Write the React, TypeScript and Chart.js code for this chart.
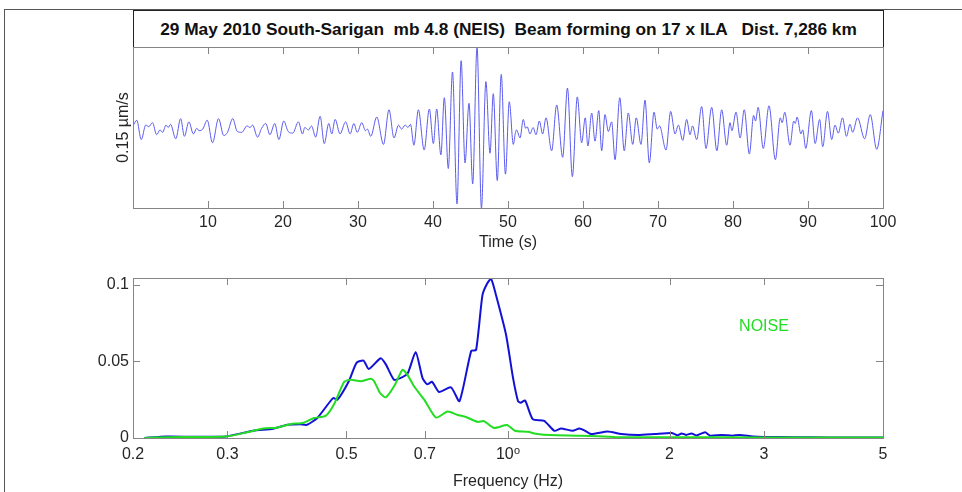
import React, { useEffect, useRef } from 'react';
import { Chart, registerables } from 'chart.js';
Chart.register(...registerables);

const FONT = '"Liberation Sans", Arial, Helvetica, "DejaVu Sans", sans-serif';

const TITLE = '29 May 2010 South-Sarigan  mb 4.8 (NEIS)  Beam forming on 17 x ILA   Dist. 7,286 km';
const TIME_LABEL = 'Time (s)';
const AMP_LABEL = '0.15 µm/s';
const FREQ_LABEL = 'Frequency (Hz)';
const NOISE_LABEL = 'NOISE';

// Time-domain beam trace (s, normalised amplitude)
const traceTime = [
  0.0, 0.5, 1.1, 1.7, 2.1, 2.6, 3.15, 3.6, 3.95, 4.4, 4.7, 5.0, 5.7, 6.35, 6.85, 7.45, 8.05, 8.5, 8.8, 9.3,
  9.9, 10.6, 11.4, 12.1, 12.6, 13.3, 13.9, 14.5, 15.2, 15.6, 15.95, 16.6, 17.15, 17.7, 18.25, 18.9, 19.45, 20.1,
  20.7, 21.3, 22.05, 22.6, 22.9, 23.4, 23.8, 24.35, 24.95, 25.5, 26.1, 26.5, 26.95, 27.6, 28.35, 28.95, 29.45, 29.9,
  30.5, 31.0, 31.25, 31.7, 32.5, 33.4, 34.13, 34.8, 35.4, 35.8, 36.3, 36.65, 37.0, 37.45, 38.05, 38.82, 39.51, 40.05,
  40.49, 41.05, 41.51, 42.04, 42.6, 43.2, 43.75, 44.27, 44.8, 45.29, 45.87, 46.46, 47.05, 47.6, 48.04, 48.57, 49.1, 49.66,
  50.17, 50.71, 51.0, 51.15, 51.6, 52.04, 52.35, 52.55, 52.93, 53.35, 53.73, 54.18, 54.62, 55.07, 55.82, 56.49, 57.29, 57.93,
  58.58, 59.24, 59.82, 60.3, 60.65, 61.16, 61.6, 62.1, 62.49, 62.93, 63.38, 63.82, 64.27, 64.9, 65.5, 66.04, 66.63, 67.1,
  67.73, 68.27, 68.84, 69.47, 69.9, 70.2, 71.07, 71.69, 72.27, 72.71, 73.3, 73.82, 74.27, 74.6, 75.16, 75.82, 76.4, 77.16,
  77.85, 78.49, 79.16, 79.6, 79.85, 80.4, 80.95, 81.5, 82.18, 82.75, 83.0, 83.35, 84.04, 84.8, 85.65, 86.3, 86.55, 86.9,
  87.6, 88.1, 88.3, 88.55, 89.05, 89.3, 89.7, 90.45, 90.95, 91.55, 91.96, 92.6, 93.16, 93.6, 94.04, 94.6, 95.13, 95.6,
  95.95, 96.6, 97.55, 98.3, 99.16, 100.0,
];
const traceAmp = [
  0.02, 0.09, -0.15, 0.03, 0.01, 0.06, -0.09, -0.03, -0.06, 0.03, 0.0, 0.04, -0.14, 0.11, -0.11, 0.07, -0.08, -0.01, -0.04, -0.02,
  0.09, -0.19, 0.11, -0.10, -0.06, 0.11, -0.05, -0.06, 0.02, 0.0, 0.03, -0.12, -0.01, 0.05, -0.09, 0.05, -0.15, 0.08,
  -0.05, -0.07, 0.07, -0.08, 0.0, -0.03, 0.02, -0.12, 0.14, -0.20, 0.05, -0.08, 0.10, -0.08, 0.07, -0.08, 0.05, -0.06,
  0.06, -0.04, -0.02, -0.11, 0.13, -0.21, 0.22, -0.13, 0.03, -0.02, 0.03, 0.0, 0.04, -0.22, 0.22, -0.28, 0.23, -0.20,
  0.23, -0.34, 0.37, -0.51, 0.69, -0.95, 0.83, -0.44, 0.30, -0.70, 1.0, -1.0, 0.57, -0.32, 0.42, -0.66, 0.66, -0.58,
  0.32, -0.21, -0.06, -0.03, -0.13, 0.10, -0.01, 0.01, -0.08, 0.0, -0.09, 0.08, -0.08, 0.12, -0.29, 0.28, -0.37, 0.49,
  -0.61, 0.38, -0.19, 0.12, -0.23, 0.18, -0.17, 0.21, -0.29, 0.16, -0.05, 0.07, -0.40, 0.37, -0.29, 0.18, -0.21, 0.12,
  -0.21, 0.34, -0.44, 0.19, -0.02, 0.02, -0.28, 0.20, -0.08, 0.03, -0.16, 0.10, -0.09, 0.02, -0.15, 0.26, -0.26, 0.25,
  -0.29, 0.22, -0.22, 0.06, -0.04, 0.19, -0.13, 0.22, -0.33, 0.15, 0.08, 0.25, -0.26, 0.27, -0.40, 0.12, 0.06, 0.19,
  -0.22, 0.08, 0.05, 0.13, -0.08, -0.03, -0.26, 0.21, -0.20, 0.10, -0.24, 0.20, -0.15, 0.03, -0.07, 0.12, -0.11, 0.04,
  -0.06, 0.12, -0.14, 0.16, -0.27, 0.21,
];
const timeTicks = [10, 20, 30, 40, 50, 60, 70, 80, 90, 100];

// Spectra: beam (blue) and noise (green)
const beamFreq = [
  0.21, 0.231, 0.26, 0.298, 0.335, 0.365, 0.388, 0.41, 0.422, 0.441, 0.472, 0.481, 0.505, 0.522, 0.538, 0.55, 0.579, 0.592,
  0.613, 0.63, 0.65, 0.673, 0.693, 0.707, 0.722, 0.744, 0.783, 0.812, 0.854, 0.872, 0.896, 0.914, 0.93, 0.95, 0.992, 1.022,
  1.044, 1.056, 1.076, 1.112, 1.168, 1.22, 1.256, 1.32, 1.358, 1.388, 1.428, 1.534, 1.626, 1.748, 1.878, 2.018, 2.07, 2.106,
  2.15, 2.198, 2.245, 2.33, 2.38, 2.5, 2.62, 2.7, 2.86, 3.0, 3.42, 3.96, 5.0,
];
const beamAmp = [
  0.0, 0.001, 0.0008, 0.001, 0.0047, 0.006, 0.0086, 0.009, 0.0086, 0.013, 0.026, 0.025, 0.037, 0.049, 0.0505, 0.045, 0.052, 0.048,
  0.038, 0.039, 0.042, 0.056, 0.039, 0.035, 0.0366, 0.03, 0.033, 0.024, 0.0568, 0.0574, 0.093, 0.1005, 0.1037, 0.093, 0.067, 0.039,
  0.024, 0.023, 0.0245, 0.0123, 0.0112, 0.0047, 0.0062, 0.0047, 0.0062, 0.005, 0.0026, 0.0043, 0.0026, 0.0019, 0.0026, 0.0033, 0.0018, 0.003,
  0.002, 0.003, 0.0017, 0.0037, 0.0015, 0.002, 0.0015, 0.002, 0.001, 0.0007, 0.0005, 0.0004, 0.0003,
];
const noiseFreq = [
  0.21, 0.231, 0.298, 0.326, 0.35, 0.371, 0.393, 0.416, 0.435, 0.457, 0.474, 0.495, 0.509, 0.532, 0.555, 0.563, 0.577, 0.592,
  0.614, 0.636, 0.65, 0.668, 0.698, 0.734, 0.772, 0.806, 0.835, 0.878, 0.902, 0.942, 0.996, 1.03, 1.088, 1.135, 1.2, 1.37,
  1.58, 1.83, 2.1, 3.0, 5.0,
];
const noiseAmp = [
  0.0, 0.0005, 0.001, 0.0037, 0.0062, 0.0067, 0.009, 0.01, 0.013, 0.0144, 0.022, 0.0366, 0.038, 0.037, 0.0387, 0.037, 0.0295, 0.0265,
  0.034, 0.0445, 0.041, 0.0337, 0.025, 0.0133, 0.0172, 0.015, 0.0137, 0.0105, 0.011, 0.0065, 0.0084, 0.0047, 0.004, 0.0026, 0.0019, 0.0015,
  0.0007, 0.0005, 0.0005, 0.0004, 0.0004,
];
const freqTicks = [0.2, 0.3, 0.5, 0.7, 1, 2, 3, 5];
const freqTickLabels = ['0.2', '0.3', '0.5', '0.7', '10⁰', '2', '3', '5'];
const ampTicks = [0, 0.05, 0.1];
const ampTickLabels = ['0', '0.05', '0.1'];
const noiseNotePos = [3.0, 0.0724];

const FRAME = '#858585';
const TEXT = '#262626';

const framePlugin = {
  id: 'frame',
  afterDraw(chart: any, _args: any, opts: any) {
    const { ctx, chartArea: a } = chart;
    const L = 7;
    ctx.save();
    ctx.strokeStyle = FRAME;
    ctx.lineWidth = 1;
    ctx.strokeRect(a.left + 0.5, a.top + 0.5, a.right - a.left, a.bottom - a.top);
    ctx.beginPath();
    const xs = chart.scales.x;
    for (const t of xs.ticks) {
      const px = Math.round(xs.getPixelForValue(t.value)) + 0.5;
      if (px <= a.left + 1 || px >= a.right - 1) continue;
      ctx.moveTo(px, a.bottom);
      ctx.lineTo(px, a.bottom - L);
      ctx.moveTo(px, a.top);
      ctx.lineTo(px, a.top + L);
    }
    if (opts && opts.yTicks) {
      const ys = chart.scales.y;
      for (const t of ys.ticks) {
        const py = Math.round(ys.getPixelForValue(t.value)) + 0.5;
        if (py >= a.bottom - 1 || py <= a.top) continue;
        ctx.moveTo(a.left, py);
        ctx.lineTo(a.left + L, py);
        ctx.moveTo(a.right, py);
        ctx.lineTo(a.right - L, py);
      }
    }
    ctx.stroke();
    if (opts && opts.note) {
      const n = opts.note;
      ctx.fillStyle = n.color;
      ctx.font = `16px ${FONT}`;
      ctx.textAlign = 'center';
      ctx.textBaseline = 'middle';
      ctx.fillText(n.text, chart.scales.x.getPixelForValue(n.x), chart.scales.y.getPixelForValue(n.y));
    }
    ctx.restore();
  },
};

export default function App() {
  const topRef = useRef<HTMLCanvasElement>(null);
  const botRef = useRef<HTMLCanvasElement>(null);

  useEffect(() => {
    Chart.defaults.font.family = FONT;
    Chart.defaults.color = TEXT;

    const c1 = new Chart(topRef.current as HTMLCanvasElement, {
      type: 'line',
      data: {
        datasets: [
          {
            data: traceTime.map((t, i) => ({ x: t, y: traceAmp[i] })),
            borderColor: '#5b5bef',
            borderWidth: 1,
            pointRadius: 0,
            cubicInterpolationMode: 'monotone',
          },
        ],
      },
      options: {
        animation: false,
        responsive: false,
        devicePixelRatio: 1,
        layout: { padding: { top: 7, right: 79, left: 0, bottom: 0 } },
        plugins: { legend: { display: false }, tooltip: { enabled: false }, frame: { yTicks: false } } as any,
        scales: {
          x: {
            type: 'linear',
            min: 0,
            max: 100,
            grid: { display: false, drawTicks: false },
            border: { display: false },
            afterBuildTicks: (s: any) => { s.ticks = timeTicks.map((v) => ({ value: v })); },
            afterFit: (s: any) => { s.height = 47; },
            ticks: { autoSkip: false, maxRotation: 0, padding: 5, font: { size: 16 }, callback: (v: any) => String(v) },
            title: { display: true, text: TIME_LABEL, font: { size: 16 }, padding: { top: 0, bottom: 2.4 } },
          },
          y: {
            type: 'linear',
            min: -1,
            max: 1,
            grid: { display: false, drawTicks: false },
            border: { display: false },
            ticks: { display: false },
            afterFit: (s: any) => { s.width = 133; },
            title: { display: true, text: AMP_LABEL, font: { size: 16 }, padding: { top: 114.4, bottom: 0 } },
          },
        },
      },
      plugins: [framePlugin],
    } as any);

    const c2 = new Chart(botRef.current as HTMLCanvasElement, {
      type: 'line',
      data: {
        datasets: [
          {
            data: noiseFreq.map((f, i) => ({ x: f, y: noiseAmp[i] })),
            borderColor: '#22dd22',
            borderWidth: 2,
            pointRadius: 0,
            tension: 0.2,
            order: 0,
          },
          {
            data: beamFreq.map((f, i) => ({ x: f, y: beamAmp[i] })),
            borderColor: '#1212d6',
            borderWidth: 2,
            pointRadius: 0,
            tension: 0.2,
            order: 1,
          },
        ],
      },
      options: {
        animation: false,
        responsive: false,
        devicePixelRatio: 1,
        layout: { padding: { top: 18, right: 79, left: 0, bottom: 0 } },
        plugins: {
          legend: { display: false },
          tooltip: { enabled: false },
          frame: { yTicks: true, note: { text: NOISE_LABEL, x: noiseNotePos[0], y: noiseNotePos[1], color: '#22dd22' } },
        } as any,
        scales: {
          x: {
            type: 'logarithmic',
            min: 0.2,
            max: 5,
            grid: { display: false, drawTicks: false },
            border: { display: false },
            afterBuildTicks: (s: any) => { s.ticks = freqTicks.map((v) => ({ value: v })); },
            afterFit: (s: any) => { s.height = 54; },
            ticks: {
              autoSkip: false,
              maxRotation: 0,
              padding: 7,
              font: { size: 16 },
              callback: (v: any) => { const i = freqTicks.indexOf(Number(v)); return i >= 0 ? freqTickLabels[i] : ''; },
            },
            title: { display: true, text: FREQ_LABEL, font: { size: 16 }, padding: { top: 0, bottom: 0.4 } },
          },
          y: {
            type: 'linear',
            min: 0,
            max: 0.1043,
            grid: { display: false, drawTicks: false },
            border: { display: false },
            afterBuildTicks: (s: any) => { s.ticks = ampTicks.map((v) => ({ value: v })); },
            afterFit: (s: any) => { s.width = 133; },
            ticks: {
              padding: 4,
              font: { size: 16 },
              callback: (v: any) => { const i = ampTicks.indexOf(Number(v)); return i >= 0 ? ampTickLabels[i] : ''; },
            },
          },
        },
      },
      plugins: [framePlugin],
    } as any);

    return () => { c1.destroy(); c2.destroy(); };
  }, []);

  return (
    <div style={{ position: 'fixed', left: 0, top: 0, width: 962, height: 492, background: '#fff', overflow: 'hidden' }}>
      <div style={{ position: 'absolute', left: 4, top: 9, width: 960, height: 490, borderTop: '1px solid #555', borderLeft: '1px solid #555' }} />
      <div
        style={{
          position: 'absolute', left: 133, top: 10, width: 751, height: 38, boxSizing: 'border-box', border: '1px solid #222',
          display: 'flex', alignItems: 'center', justifyContent: 'center', whiteSpace: 'pre', color: '#111',
          fontFamily: FONT, fontWeight: 'bold', fontSize: 17.3, background: '#fff',
        }}
      >
        {TITLE}
      </div>
      <canvas ref={topRef} width={962} height={215} style={{ position: 'absolute', left: 0, top: 40, width: 962, height: 215 }} />
      <canvas ref={botRef} width={962} height={232} style={{ position: 'absolute', left: 0, top: 260, width: 962, height: 232 }} />
    </div>
  );
}
